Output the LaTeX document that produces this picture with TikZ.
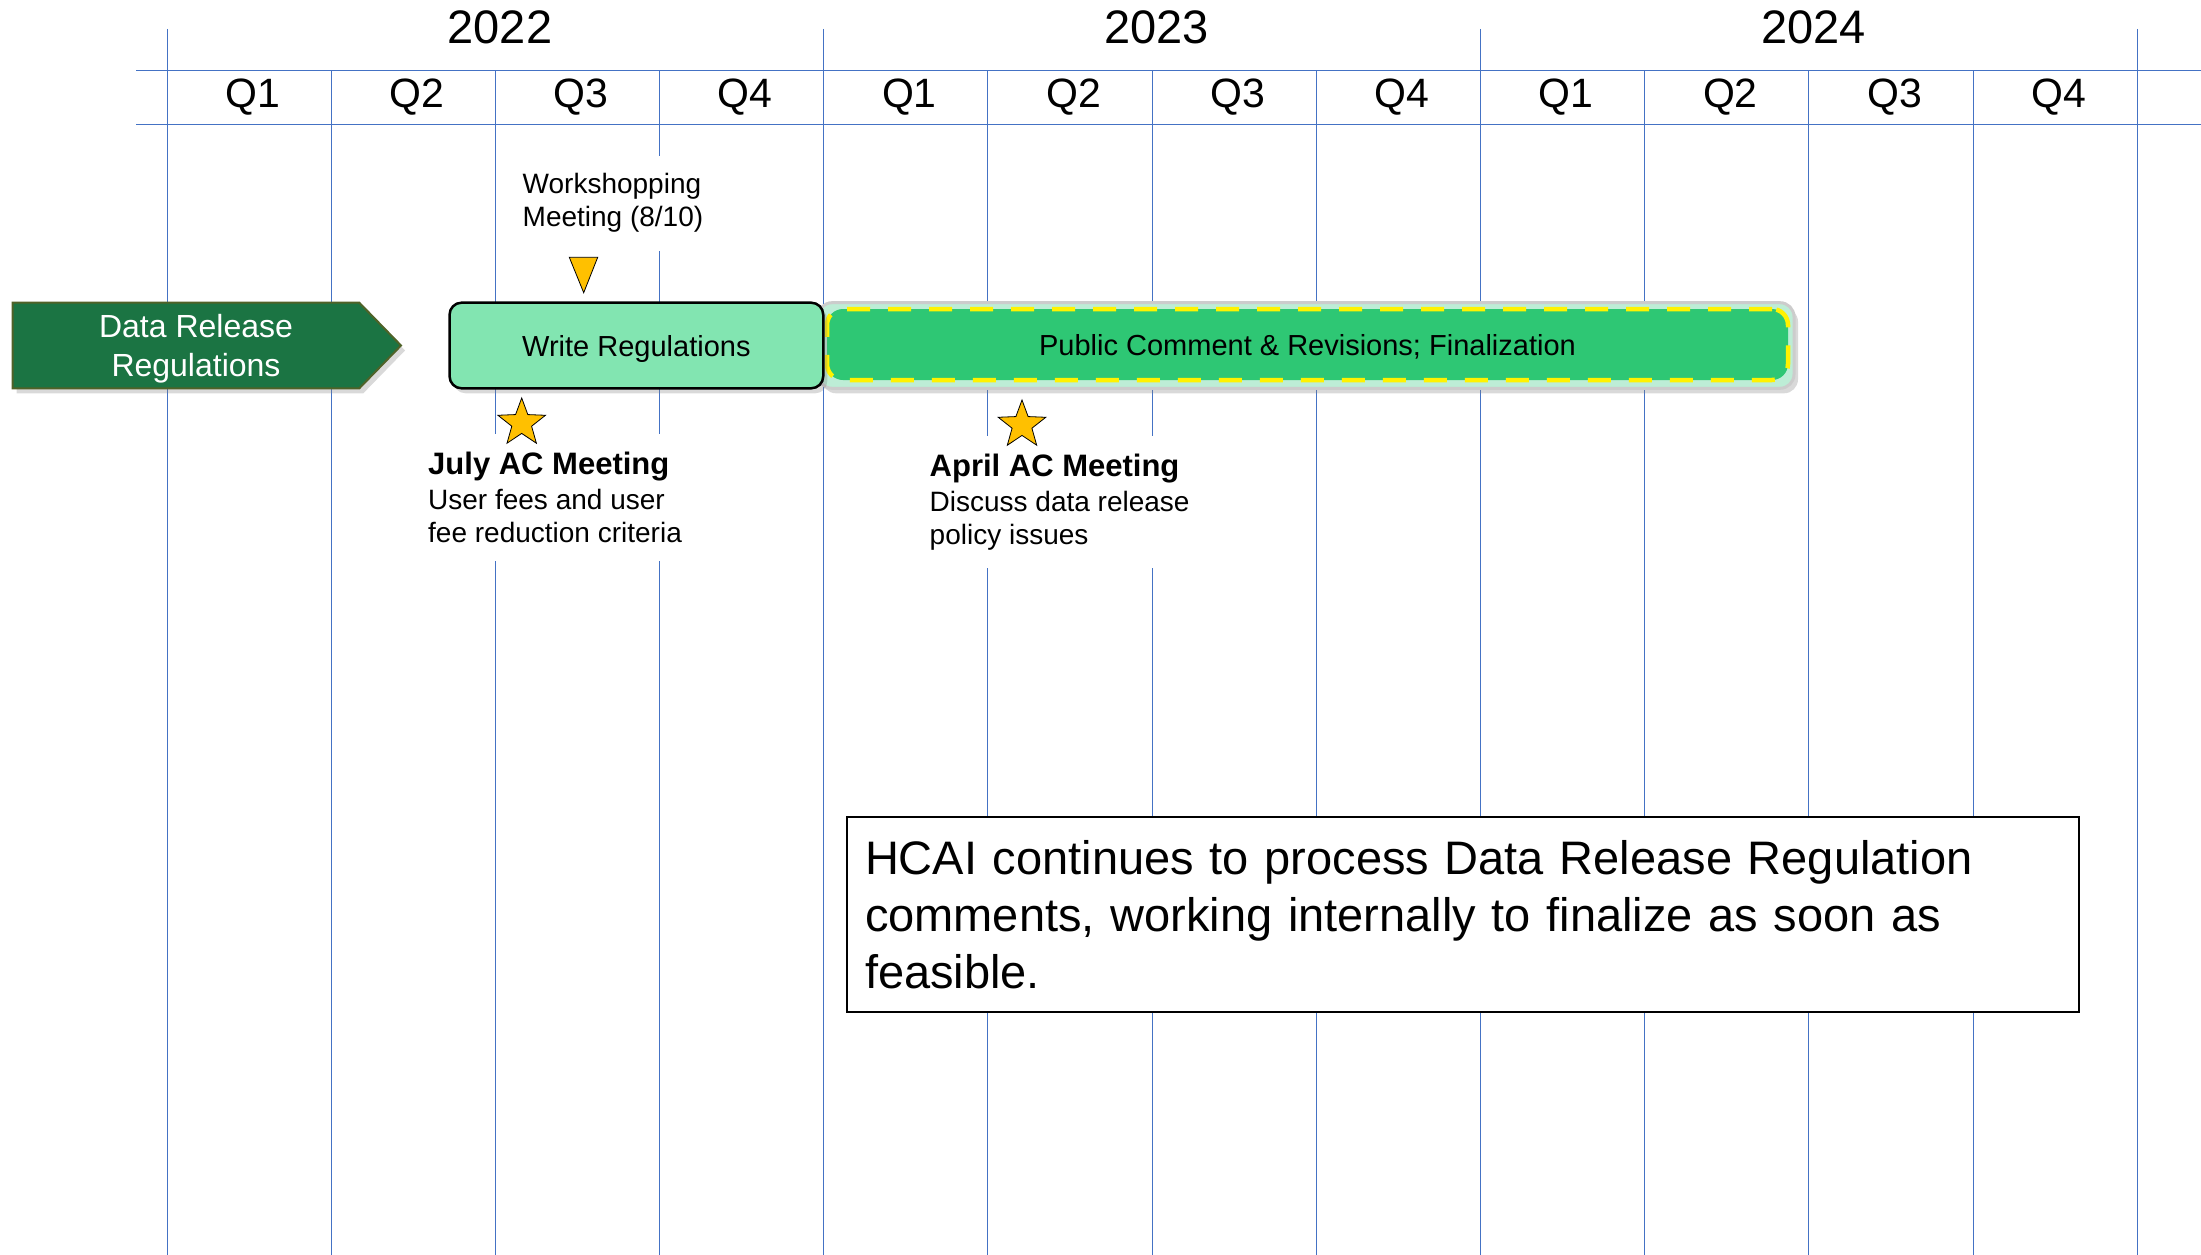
\documentclass[tikz,border=0pt]{standalone}
\usepackage{fontspec}
\setmainfont{Liberation Sans}
\usetikzlibrary{shapes.geometric,shadows}
\definecolor{gridBlue}{HTML}{4472C4}
\definecolor{arrowGreen}{HTML}{1B7443}
\definecolor{arrowRim}{HTML}{4F6228}
\definecolor{writeGreen}{HTML}{82E5B1}
\definecolor{commentGreen}{HTML}{2EC774}
\definecolor{commentRim}{HTML}{BDEDD6}
\definecolor{markerGold}{HTML}{FFC000}
\newcommand{\fsize}[2]{\fontsize{#1}{#2}\selectfont}

\begin{document}
\begin{tikzpicture}[x=1pt, y=-1pt,%%
  gridStyle/.style={gridBlue, line width=1.2pt},%%
  yearStyle/.style={anchor=base, font=\fsize{47}{56}},%%
  quarterStyle/.style={anchor=base, font=\fsize{41}{49}},%%
  noteStyle/.style={anchor=north west, align=left, fill=white,
    inner xsep=4pt, inner ysep=18pt, font=\fsize{28}{33}},%%
  starStyle/.style={star, star points=5, star point ratio=2.4,
    minimum size=50pt, inner sep=0pt, fill=markerGold, draw=black,
    line width=0.8pt},%%
  barText/.style={font=\fsize{29}{35}, text height=21pt, text depth=0pt},%%
  shadowStyle/.style={drop shadow={shadow xshift=4pt,
    shadow yshift=-5pt, opacity=0.3}}%%
]
\useasboundingbox (0,0) rectangle (2201,1255);
%%
%%
\pgfmathsetmacro{\xstart}{166.5} %% x of the first quarter line.
\pgfmathsetmacro{\qwidth}{164.2} %% Width of one quarter.
%%
%%
%% The time grid.
\draw[gridStyle] (136,70.5) -- (2201,70.5);
\draw[gridStyle] (136,124.5) -- (2201,124.5);
\foreach \k in {0,...,12}{
  \pgfmathsetmacro{\xk}{round(\xstart+\k*\qwidth)+0.5}
  \pgfmathsetmacro{\ytop}{mod(\k,4)==0 ? 29 : 70.5}
  \draw[gridStyle] (\xk,\ytop) -- (\xk,1255);
}
\foreach \yr [count=\i from 0] in {2022,2023,2024}{
  \node[yearStyle] (year\yr) at ({\xstart+(4*\i+2)*\qwidth+5},43.3) {\yr};
  \foreach \q in {1,...,4}{
    \node[quarterStyle] (q\yr\q) at ({\xstart+(4*\i+\q-0.5)*\qwidth+4},107.3) {Q\q};
  }
}
%%
%%
%% The bars.
\node[draw=black!20, fill=commentRim, line width=3pt, rounded corners=14pt,
  minimum width=976pt, minimum height=85.6pt, shadowStyle]
  (commentBar) at (1306,345.5) {};
\node[draw=yellow, fill=commentGreen, line width=4.5pt,
  dash pattern=on 23pt off 18pt, rounded corners=16pt,
  minimum width=961pt, minimum height=71pt, barText]
  (commentInner) at (1307.5,344.5) {Public Comment \& Revisions; Finalization};
\node[draw=black, line width=2.5pt, fill=writeGreen, rounded corners=12pt,
  minimum width=373.7pt, minimum height=85.6pt, shadowStyle, barText]
  (writeRegs) at (636.4,345.5) {Write Regulations};
\draw[shadowStyle, fill=arrowGreen, draw=arrowRim, line width=2pt]
  (12.7,302.7) -- (359.3,302.7) -- (401,345.5) -- (359.3,388.3)
  -- (12.7,388.3) -- cycle;
\node[align=center, text=white, font=\fsize{32}{39}, inner sep=0pt]
  (dataRelease) at (196,348.3) {Data Release\\Regulations};
%%
%%
%% Meetings.
\draw[fill=markerGold, draw=black, line width=0.8pt]
  (569.3,257.3) -- (597.7,257.3) -- (583.7,292.7) -- cycle;
\node[noteStyle] (workshopNote) at (518.5,155.3) {Workshopping\\Meeting (8/10)};
\node[noteStyle] (julyNote) at (424,433.8)
  {{\fsize{31}{33}\bfseries July AC Meeting}\\[2pt]User fees and user\\fee reduction criteria};
\node[noteStyle] (aprilNote) at (925.5,435.8)
  {{\fsize{31}{33}\bfseries April AC Meeting}\\[2pt]Discuss data release\\policy issues};
\node[starStyle] (julyStar) at (521.7,423) {};
\node[starStyle] (aprilStar) at (1022,425) {};
%%
%%
%% Status note.
\node[draw=black, line width=2pt, fill=white, anchor=north west,
  text width=1196pt, align=left, inner xsep=18pt, inner ysep=23.6pt,
  minimum width=1232pt, minimum height=193pt, font=\fsize{47}{56.7}]
  (hcaiNote) at (846,816)
  {HCAI continues to process Data Release Regulation\\comments, working internally to finalize as soon as\\feasible.};
\end{tikzpicture}
\end{document}
